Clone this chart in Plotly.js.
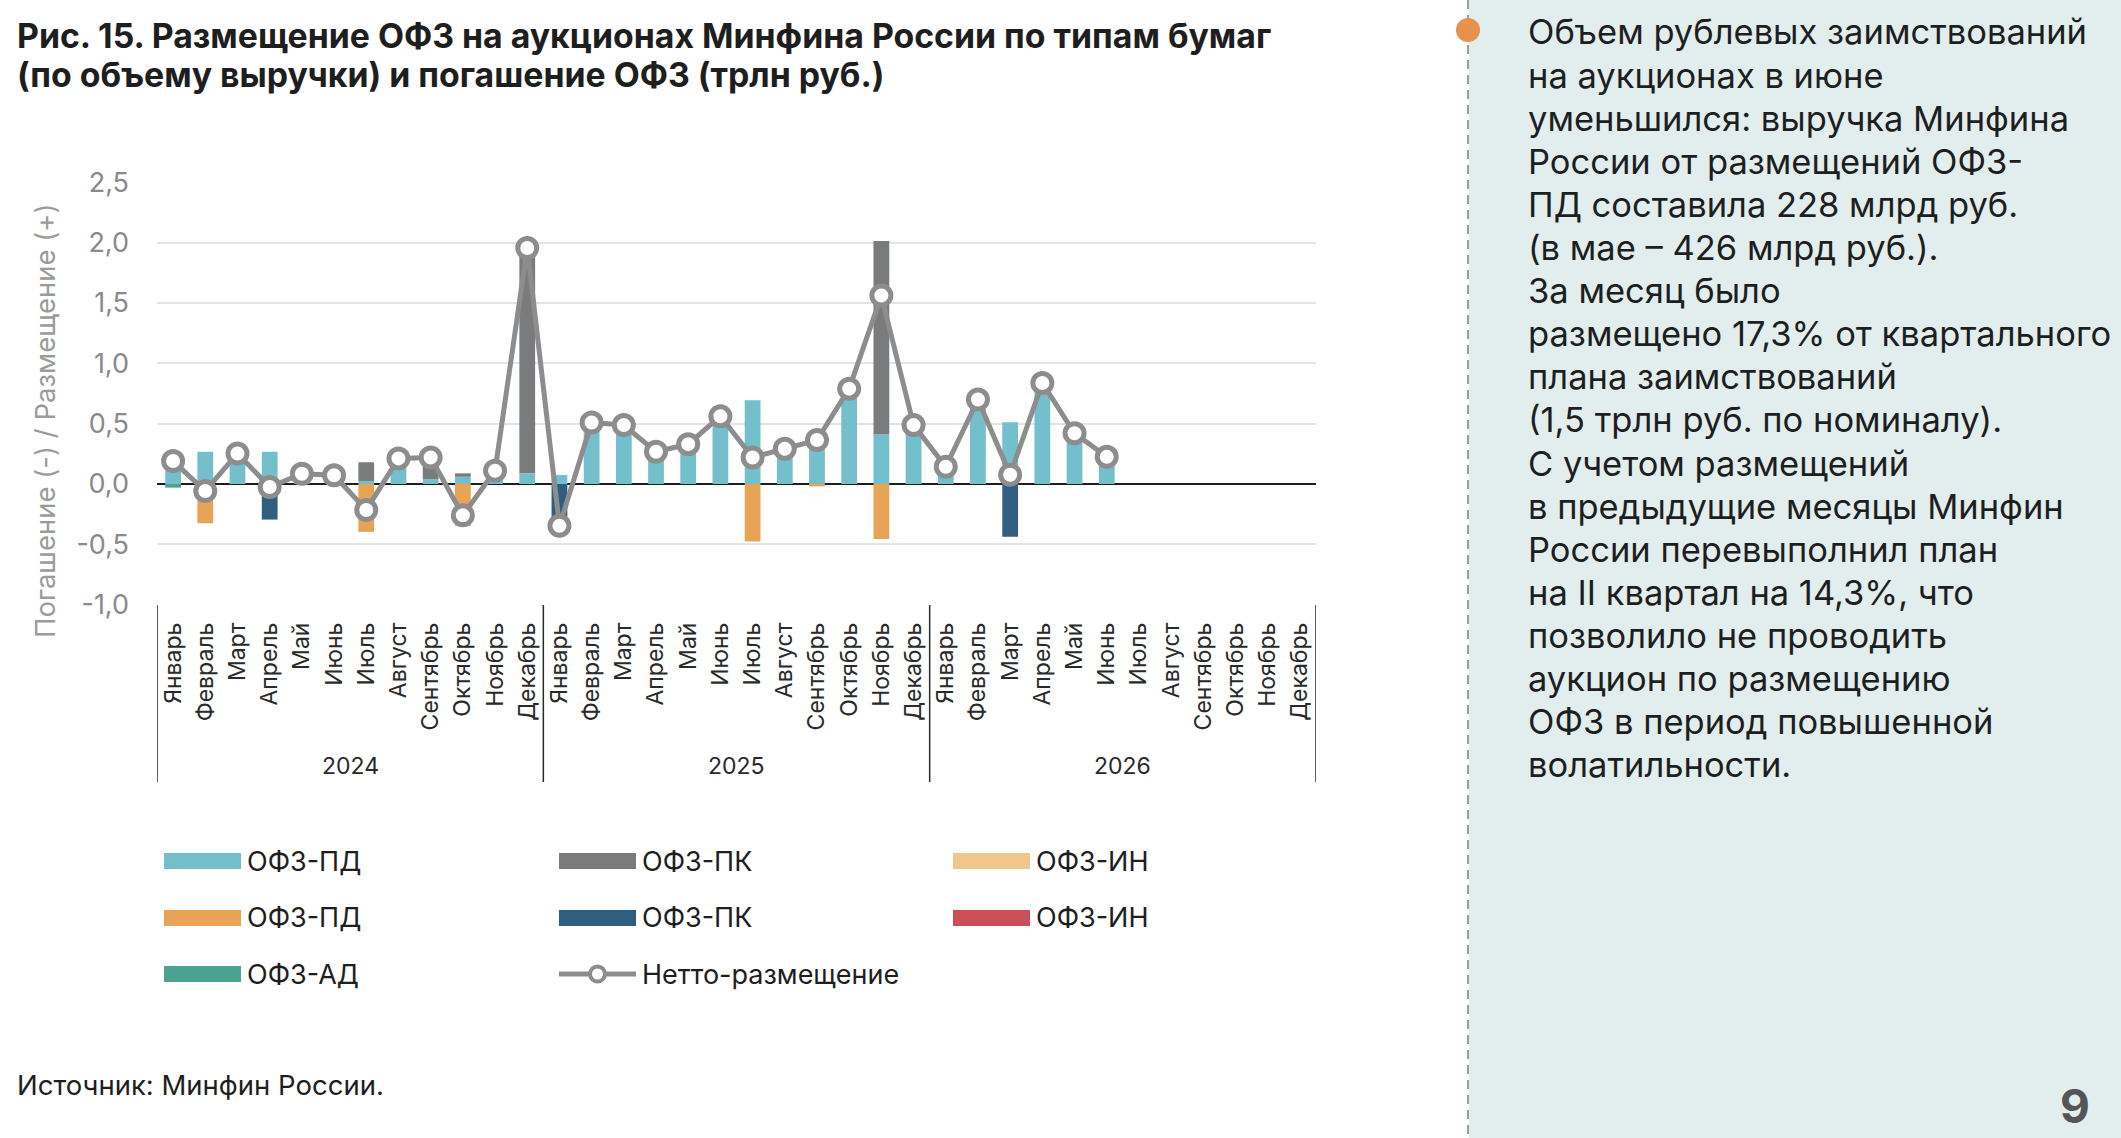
<!DOCTYPE html>
<html>
<head>
<meta charset="utf-8">
<script src="https://cdn.plot.ly/plotly-3.0.1.min.js"></script>
<style>
  html, body { margin: 0; padding: 0; background: #ffffff; }
  #chart { width: 2121px; height: 1138px; }
</style>
</head>
<body>
<div id="chart"></div>
<script>
// Месяцы и годы по оси X
const months = ['Январь','Февраль','Март','Апрель','Май','Июнь','Июль','Август','Сентябрь','Октябрь','Ноябрь','Декабрь'];
const years = ['2024','2025','2026'];

// Размещение (+), трлн руб.
const pdPlaced = [
  0.22, 0.267, 0.253, 0.267, 0.085, 0.072, 0.025, 0.212, 0.04, 0.06, 0.11, 0.088,
  0.074, 0.51, 0.488, 0.267, 0.33, 0.562, 0.694, 0.292, 0.384, 0.79, 0.413, 0.488,
  0.143, 0.70, 0.512, 0.837, 0.426, 0.228, null, null, null, null, null, null
];
const pkPlaced = [
  0, 0, 0, 0, 0, 0, 0.155, 0, 0.18, 0.028, 0, 1.868,
  0, 0, 0, 0, 0, 0, 0, 0, 0, 0, 1.60, 0,
  0, 0, 0, 0, 0, 0, null, null, null, null, null, null
];
const inPlaced = [
  0, 0, 0, 0, 0, 0, 0, 0, 0, 0, 0, 0,
  0, 0, 0, 0, 0, 0, 0, 0, 0, 0, 0, 0,
  0, 0, 0, 0, 0, 0, null, null, null, null, null, null
];

// Погашение (-), трлн руб.
const pdRedeemed = [
  0, -0.325, 0, 0, 0, 0, -0.397, 0, 0, -0.347, 0, 0,
  0, 0, 0, 0, 0, 0, -0.477, 0, -0.02, 0, -0.455, 0,
  0, 0, 0, 0, 0, 0, null, null, null, null, null, null
];
const pkRedeemed = [
  0, 0, 0, -0.295, 0, 0, 0, 0, 0, 0, 0, 0,
  -0.421, 0, 0, 0, 0, 0, 0, 0, 0, 0, 0, 0,
  0, 0, -0.438, 0, 0, 0, null, null, null, null, null, null
];
const inRedeemed = [
  0, 0, 0, 0, 0, 0, 0, 0, 0, 0, 0, 0,
  0, 0, 0, 0, 0, 0, 0, 0, 0, 0, 0, 0,
  0, 0, 0, 0, 0, 0, null, null, null, null, null, null
];
const adFlow = [
  -0.03, 0, 0, 0, 0, 0, 0, 0, 0, 0, 0, 0,
  0, 0, 0, 0, 0, 0, 0, 0, 0, 0, 0, 0,
  0, 0, 0, 0, 0, 0, null, null, null, null, null, null
];

// Нетто-размещение
const netPlacement = [
  0.19, -0.058, 0.253, -0.025, 0.085, 0.072, -0.215, 0.212, 0.22, -0.259, 0.11, 1.956,
  -0.347, 0.51, 0.488, 0.267, 0.33, 0.562, 0.22, 0.292, 0.364, 0.79, 1.562, 0.488,
  0.143, 0.70, 0.077, 0.837, 0.42, 0.225, null, null, null, null, null, null
];

// Подписи оси Y
const yTickVals = [-1, -0.5, 0, 0.5, 1, 1.5, 2, 2.5];
const yTickText = ['-1,0', '-0,5', '0,0', '0,5', '1,0', '1,5', '2,0', '2,5'];

// Тексты
const titleLines = [
  'Рис. 15. Размещение ОФЗ на аукционах Минфина России по типам бумаг',
  '(по объему выручки) и погашение ОФЗ (трлн руб.)'
];
const yTitle = 'Погашение (-) / Размещение (+)';
const sourceText = 'Источник: Минфин России.';
const noteLines = [
  'Объем рублевых заимствований',
  'на аукционах в июне',
  'уменьшился: выручка Минфина',
  'России от размещений ОФЗ-',
  'ПД составила 228 млрд руб.',
  '(в мае – 426 млрд руб.).',
  'За месяц было',
  'размещено 17,3% от квартального',
  'плана заимствований',
  '(1,5 трлн руб. по номиналу).',
  'С учетом размещений',
  'в предыдущие месяцы Минфин',
  'России перевыполнил план',
  'на II квартал на 14,3%, что',
  'позволило не проводить',
  'аукцион по размещению',
  'ОФЗ в период повышенной',
  'волатильности.'
];
const pageNumber = '9';

// Серии: подписи и цвета (порядок легенды — по строкам)
const seriesNames = ['ОФЗ-ПД', 'ОФЗ-ПК', 'ОФЗ-ИН', 'ОФЗ-ПД', 'ОФЗ-ПК', 'ОФЗ-ИН', 'ОФЗ-АД', 'Нетто-размещение'];
const seriesColors = ['#74bfcc', '#7a7b7d', '#f0c68c', '#e8a456', '#2f5e80', '#cb4f57', '#4aa291', '#8d8d8d'];

// ---- геометрия страницы ----
const W = 2121, H = 1138;
const M = { l: 157, r: 805, t: 182, b: 533 };
const PW = W - M.l - M.r, PH = H - M.t - M.b;
const fx = px => (px - M.l) / PW;
const fy = py => (H - M.b - py) / PH;

const FONT = 'Inter, "Noto Sans", "DejaVu Sans", sans-serif';
const x = years.flatMap((y, i) => months.map((m, j) => i * 12 + j));
const tickText = years.flatMap(() => months);

function barTrace(values, idx) {
  return {
    type: 'bar', x: x, y: values, name: seriesNames[idx],
    marker: { color: seriesColors[idx], line: { width: 0 } },
    showlegend: false, hoverinfo: 'skip'
  };
}

const traces = [
  barTrace(pdPlaced, 0),
  barTrace(pkPlaced, 1),
  barTrace(inPlaced, 2),
  barTrace(adFlow, 6),
  barTrace(pdRedeemed, 3),
  barTrace(pkRedeemed, 4),
  barTrace(inRedeemed, 5),
  {
    type: 'scatter', mode: 'lines+markers', x: x, y: netPlacement,
    name: seriesNames[7], showlegend: false, hoverinfo: 'skip',
    line: { color: seriesColors[7], width: 5 },
    marker: { size: 19, color: '#ffffff', line: { color: seriesColors[7], width: 5 } },
    cliponaxis: false
  }
];

const shapes = [];
const annotations = [];

// Правая панель с комментарием
shapes.push({ type: 'rect', xref: 'paper', yref: 'paper', layer: 'below',
  x0: fx(1469), x1: fx(W + 5), y0: fy(H + 5), y1: fy(-5),
  fillcolor: '#e2eeee', line: { width: 0 } });
shapes.push({ type: 'line', xref: 'paper', yref: 'paper',
  x0: fx(1468), x1: fx(1468), y0: fy(0), y1: fy(H),
  line: { color: '#7d7d7d', width: 1.5, dash: '9px,6px' } });
shapes.push({ type: 'circle', xref: 'paper', yref: 'paper',
  x0: fx(1456), x1: fx(1480), y0: fy(42), y1: fy(18),
  fillcolor: '#e8914c', line: { width: 0 } });

// Разделители годов под осью
for (let k = 0; k <= years.length; k++) {
  shapes.push({ type: 'line', xref: 'x', yref: 'paper',
    x0: k * 12 - 0.5, x1: k * 12 - 0.5, y0: 0, y1: fy(782),
    line: { color: '#2a2a2a', width: 1.5 } });
}
years.forEach((yr, k) => {
  annotations.push({ xref: 'x', yref: 'paper', x: k * 12 + 5.5, y: fy(766),
    text: yr, showarrow: false, xanchor: 'center', yanchor: 'middle',
    font: { family: FONT, size: 23, color: '#2a2a2a' } });
});

// Легенда: 3 колонки
const legCols = [164, 559, 953];
const legRows = [861, 918, 974];
seriesNames.forEach((name, i) => {
  const cx = legCols[i % 3], cy = legRows[Math.floor(i / 3)];
  if (i < 7) {
    shapes.push({ type: 'rect', xref: 'paper', yref: 'paper',
      x0: fx(cx), x1: fx(cx + 77), y0: fy(cy + 8), y1: fy(cy - 8),
      fillcolor: seriesColors[i], line: { width: 0 } });
  } else {
    shapes.push({ type: 'line', xref: 'paper', yref: 'paper',
      x0: fx(cx), x1: fx(cx + 77), y0: fy(cy), y1: fy(cy),
      line: { color: seriesColors[i], width: 5 } });
    shapes.push({ type: 'circle', xref: 'paper', yref: 'paper',
      x0: fx(cx + 31), x1: fx(cx + 46), y0: fy(cy + 7.5), y1: fy(cy - 7.5),
      fillcolor: '#ffffff', line: { color: seriesColors[i], width: 4 } });
  }
  annotations.push({ xref: 'paper', yref: 'paper', x: fx(cx + 81), y: fy(cy),
    text: name, showarrow: false, xanchor: 'left', yanchor: 'middle',
    font: { family: FONT, size: 27, color: '#1e1e1e' } });
});

// Заголовок (две строки)
titleLines.forEach((line, i) => {
  annotations.push({ xref: 'paper', yref: 'paper', x: fx(15), y: fy(35 + 39 * i),
    text: line, showarrow: false, xanchor: 'left', yanchor: 'middle', align: 'left',
    font: { family: FONT, size: 33.8, weight: 700, color: '#1e1e1e' } });
});

// Подпись оси Y, источник
annotations.push({ xref: 'paper', yref: 'paper', x: fx(45), y: fy(421),
  text: yTitle, showarrow: false, textangle: -90, xanchor: 'center', yanchor: 'middle',
  font: { family: FONT, size: 27.5, color: '#9b9b9b' } });
annotations.push({ xref: 'paper', yref: 'paper', x: fx(15), y: fy(1085),
  text: sourceText, showarrow: false, xanchor: 'left', yanchor: 'middle',
  font: { family: FONT, size: 27.5, color: '#1e1e1e' } });

// Комментарий в правой панели
noteLines.forEach((line, i) => {
  annotations.push({ xref: 'paper', yref: 'paper', x: fx(1526), y: fy(32 + 43.1 * i),
    text: line, showarrow: false, xanchor: 'left', yanchor: 'middle', align: 'left',
    font: { family: FONT, size: 34.5, color: '#1e1e1e' } });
});

// Номер страницы
annotations.push({ xref: 'paper', yref: 'paper', x: fx(2075), y: fy(1136),
  text: pageNumber, showarrow: false, xanchor: 'center', yanchor: 'bottom',
  font: { family: FONT, size: 46, weight: 700, color: '#555555' } });

const layout = {
  width: W, height: H,
  margin: M,
  paper_bgcolor: '#ffffff', plot_bgcolor: 'rgba(0,0,0,0)',
  font: { family: FONT, color: '#1e1e1e' },
  barmode: 'relative', bargap: 0.51,
  showlegend: false,
  xaxis: {
    range: [-0.5, 35.5], tickmode: 'array', tickvals: x, ticktext: tickText,
    tickangle: -90, ticks: '', showgrid: false, zeroline: false, showline: false,
    ticklabelstandoff: 12,
    tickfont: { family: FONT, size: 23, color: '#2a2a2a' }, fixedrange: true
  },
  yaxis: {
    range: [-1.003, 2.503], tickmode: 'array', tickvals: yTickVals, ticktext: yTickText,
    showgrid: true, gridcolor: '#e4e4e4', gridwidth: 2,
    zeroline: true, zerolinecolor: '#1e1e1e', zerolinewidth: 1.5,
    showline: false, ticks: '', ticklabelstandoff: 27,
    tickfont: { family: FONT, size: 27, color: '#8a8a8a' }, fixedrange: true
  },
  shapes: shapes,
  annotations: annotations
};

Plotly.newPlot('chart', traces, layout, { staticPlot: true, displayModeBar: false });
</script>
</body>
</html>
